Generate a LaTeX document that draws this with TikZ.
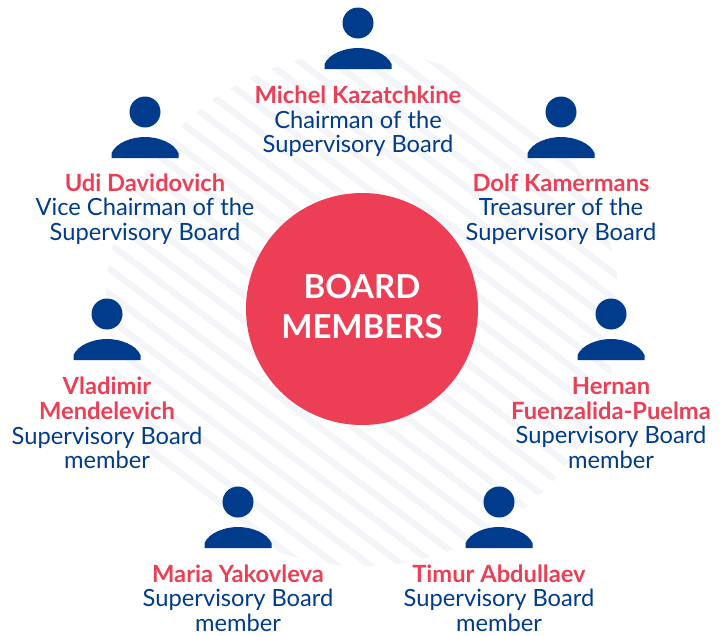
\documentclass[tikz,border=0pt]{standalone}
\usepackage{fontspec}
\setmainfont{Lato}
\definecolor{boardred}{HTML}{EC3F56}
\definecolor{boardblue}{HTML}{003B8C}
\definecolor{stripe}{HTML}{F3F5F9}
\tikzset{
  x=1pt,y=-1pt,
  member/.style={align=center,inner sep=0pt,text=boardblue,font=\fontsize{23.7}{24.6}\selectfont},
  hub/.style={circle,fill=boardred,minimum size=232pt,inner sep=0pt},
  hubtext/.style={inner sep=0pt,align=center,text=white,font=\fontsize{33}{40}\selectfont\bfseries},
  stripeline/.style={stripe,line width=6.5pt},
  person/.pic={
    \fill[boardblue] (0,0) circle[radius=15.5];
    \fill[boardblue] (-33.5,46) -- (-33.5,41) .. controls (-29,31) and (-14,25) .. (0,25)
      .. controls (14,25) and (29,31) .. (33.5,41) -- (33.5,46) -- cycle;
  }
}
\newcommand{\nm}[1]{{\color{boardred}\bfseries #1}}
\begin{document}
\begin{tikzpicture}
\useasboundingbox (0,0) rectangle (722,635);
\begin{scope}
  \clip (362,309) circle[radius=257];
  \foreach \d in {-260,-240,...,260}{
    \draw[stripeline,shift={(362,309)},rotate=-37] (-300,\d) -- (300,\d);
  }
\end{scope}
\node[hub] (hub) at (362,309) {};
\node[hubtext] (hublabel) at (362,307) {BOARD\\MEMBERS};
\pic at (358,23) {person};
\pic at (145,112) {person};
\pic at (561,112) {person};
\pic at (107,314) {person};
\pic at (611,314) {person};
\pic at (238,502) {person};
\pic at (499,502) {person};
\node[member] (michel) at (358,121.5) {\nm{Michel Kazatchkine}\\Chairman of the\\Supervisory Board};
\node[member] (udi) at (145,209) {\nm{Udi Davidovich}\\Vice Chairman of the\\Supervisory Board};
\node[member] (dolf) at (561,209) {\nm{Dolf Kamermans}\\Treasurer of the\\Supervisory Board};
\node[member] (vladimir) at (107,423) {\nm{Vladimir}\\\nm{Mendelevich}\\Supervisory Board\\member};
\node[member] (hernan) at (611,423) {\nm{Hernan}\\\nm{Fuenzalida-Puelma}\\Supervisory Board\\member};
\node[member] (maria) at (238,598) {\nm{Maria Yakovleva}\\Supervisory Board\\member};
\node[member] (timur) at (499,598) {\nm{Timur Abdullaev}\\Supervisory Board\\member};
\end{tikzpicture}
\end{document}
